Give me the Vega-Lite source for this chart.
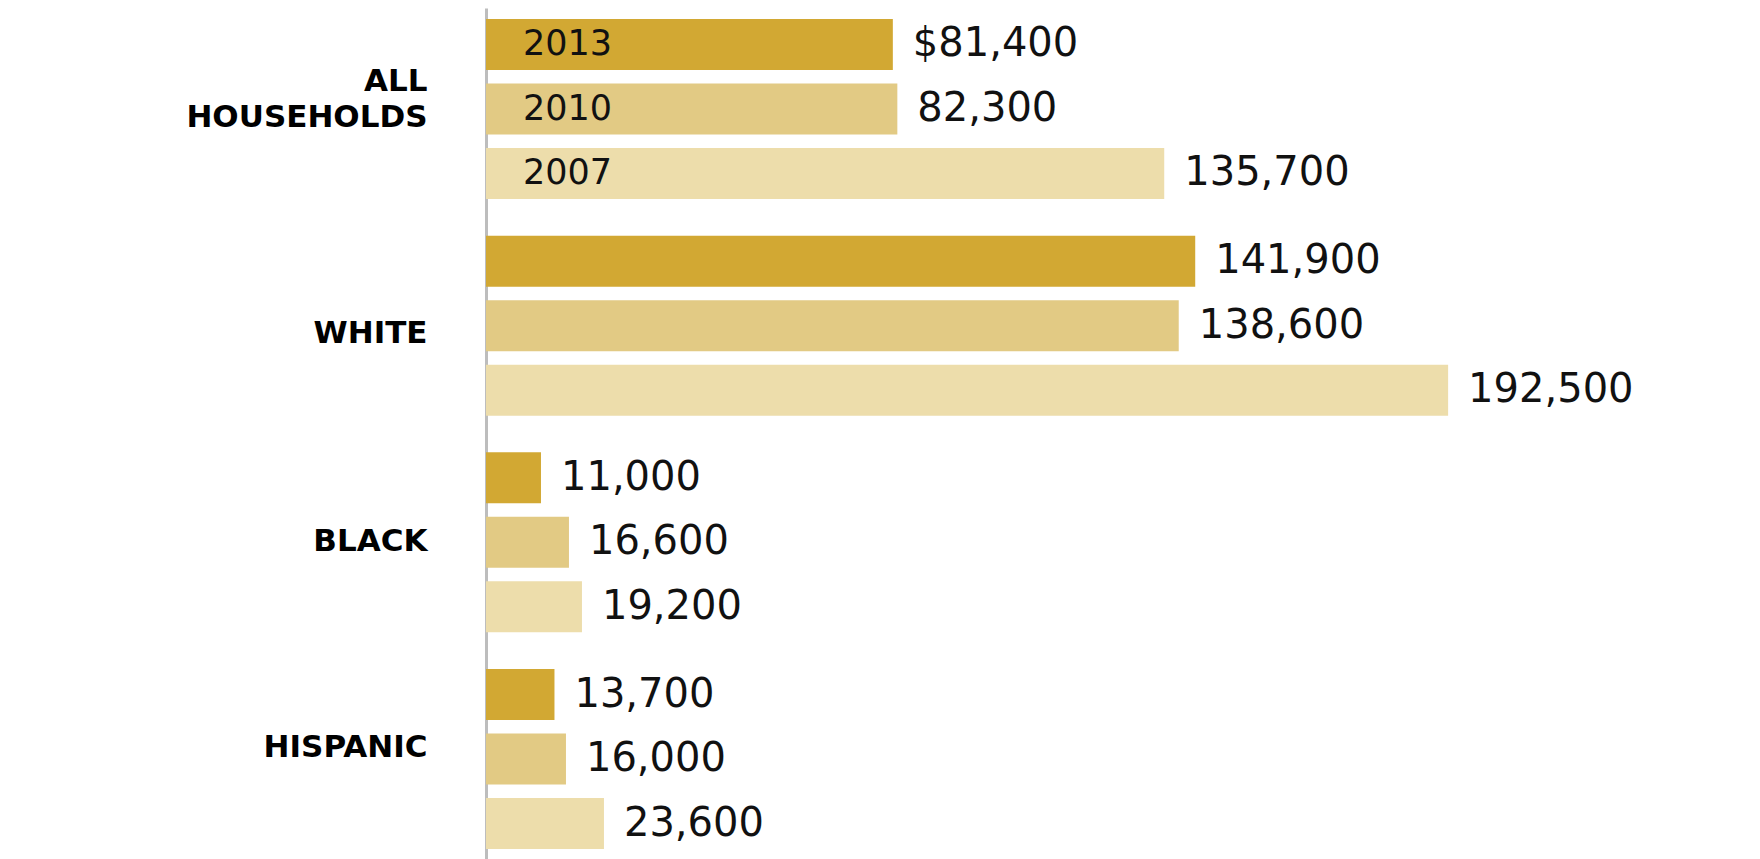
{
  "$schema": "https://vega.github.io/schema/vega-lite/v6.json",
  "width": 1274,
  "height": 852,
  "autosize": {"type": "none"},
  "padding": {"left": 486, "top": 8, "right": 0, "bottom": 0},
  "background": "white",
  "config": {"view": {"stroke": null}},
  "data": {
    "values": [
      {"group": "ALL HOUSEHOLDS", "year": "2013", "value": 81400, "label": "$81,400"},
      {"group": "ALL HOUSEHOLDS", "year": "2010", "value": 82300, "label": "82,300"},
      {"group": "ALL HOUSEHOLDS", "year": "2007", "value": 135700, "label": "135,700"},
      {"group": "WHITE", "year": "2013", "value": 141900, "label": "141,900"},
      {"group": "WHITE", "year": "2010", "value": 138600, "label": "138,600"},
      {"group": "WHITE", "year": "2007", "value": 192500, "label": "192,500"},
      {"group": "BLACK", "year": "2013", "value": 11000, "label": "11,000"},
      {"group": "BLACK", "year": "2010", "value": 16600, "label": "16,600"},
      {"group": "BLACK", "year": "2007", "value": 19200, "label": "19,200"},
      {"group": "HISPANIC", "year": "2013", "value": 13700, "label": "13,700"},
      {"group": "HISPANIC", "year": "2010", "value": 16000, "label": "16,000"},
      {"group": "HISPANIC", "year": "2007", "value": 23600, "label": "23,600"}
    ]
  },
  "encoding": {
    "y": {
      "field": "group",
      "type": "nominal",
      "sort": ["ALL HOUSEHOLDS", "WHITE", "BLACK", "HISPANIC"],
      "scale": {"paddingInner": 0.107, "paddingOuter": 0.0194},
      "axis": {
        "title": null,
        "domainColor": "#bdbdbd",
        "domainWidth": 3,
        "ticks": false,
        "labelFont": "DejaVu Sans",
        "labelFontWeight": "bold",
        "labelFontSize": 31,
        "labelColor": "#000000",
        "labelPadding": 59,
        "labelLimit": 0,
        "labelLineHeight": 36,
        "labelOffset": {
          "condition": [
            {"test": "datum.value === 'ALL HOUSEHOLDS'", "value": -27},
            {"test": "datum.value === 'WHITE'", "value": 8},
            {"test": "datum.value === 'HISPANIC'", "value": -11}
          ],
          "value": 0
        },
        "labelExpr": "split(datum.label, ' ')"
      }
    },
    "yOffset": {
      "field": "year",
      "type": "nominal",
      "sort": ["2013", "2010", "2007"],
      "scale": {"paddingInner": 0.21, "paddingOuter": 0.105}
    }
  },
  "layer": [
    {
      "mark": {"type": "bar"},
      "encoding": {
        "x": {
          "field": "value",
          "type": "quantitative",
          "scale": {"domain": [0, 254900], "nice": false, "zero": true},
          "axis": null
        },
        "color": {
          "field": "year",
          "type": "nominal",
          "scale": {"domain": ["2013", "2010", "2007"], "range": ["#D2A833", "#E2CA84", "#EDDDAB"]},
          "legend": null
        }
      }
    },
    {
      "mark": {"type": "text", "align": "left", "baseline": "middle", "dx": 20, "font": "DejaVu Sans", "fontSize": 40, "color": "#111111"},
      "encoding": {
        "x": {"field": "value", "type": "quantitative"},
        "text": {"field": "label"}
      }
    },
    {
      "transform": [{"filter": "datum.group === 'ALL HOUSEHOLDS'"}],
      "mark": {"type": "text", "align": "left", "baseline": "middle", "dx": 37, "font": "DejaVu Sans", "fontSize": 35, "color": "#111111"},
      "encoding": {
        "x": {"datum": 0, "type": "quantitative"},
        "text": {"field": "year"}
      }
    }
  ]
}
